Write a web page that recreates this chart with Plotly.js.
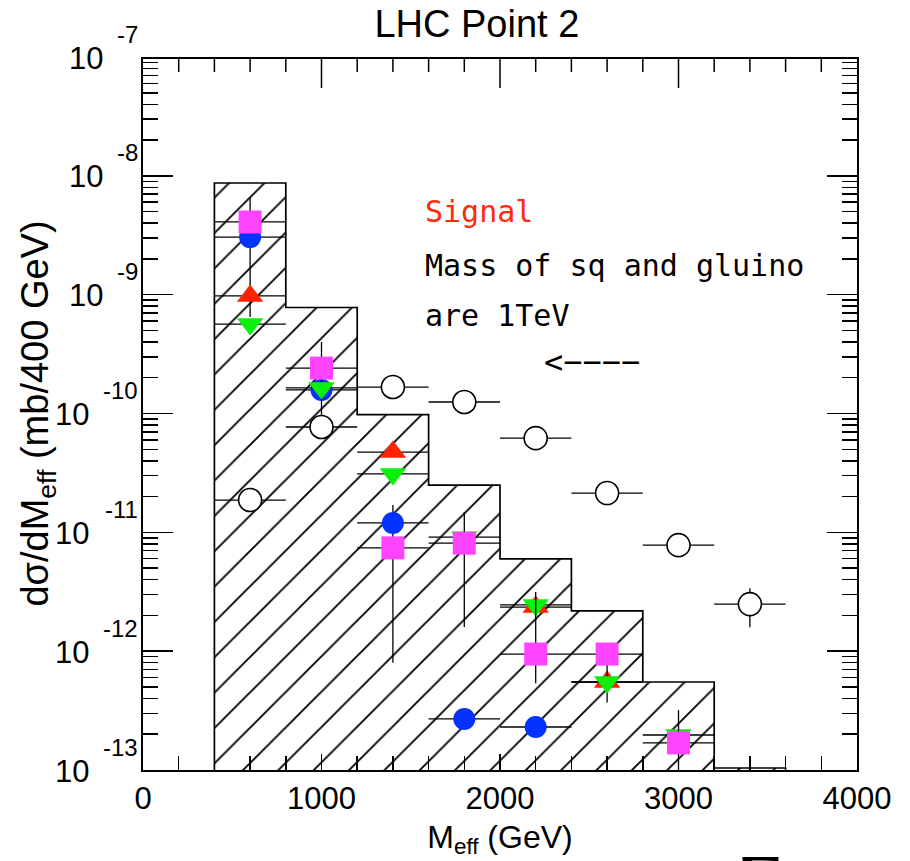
<!DOCTYPE html>
<html><head><meta charset="utf-8">
<script src="https://cdn.plot.ly/plotly-3.0.1.min.js"></script>
<style>html,body{margin:0;padding:0;background:#fff;} #chart{width:910px;height:861px;}</style>
</head><body><div id="chart"></div>
<script>
// ---- data ----
const binCenters = [600, 1000, 1400, 1800, 2200, 2600, 3000, 3400];
const binWidth = 400;
const histTotal = [8.7e-9, 7.8e-10, 9.8e-11, 2.5e-11, 5.97e-12, 2.18e-12, 5.5e-13, 1.04e-13];

const bgX = [600, 1000, 1400, 1800, 2200, 2600, 3000, 3400];
const bgY = [1.87e-11, 7.7e-11, 1.67e-10, 1.25e-10, 6.2e-11, 2.14e-11, 7.8e-12, 2.49e-12];
const bgErrUp = [0, 0, 0, 0, 0, 0, 0, 0.9e-12];
const bgErrDown = [0, 0, 0, 0, 0, 0, 0, 0.9e-12];

const blueX = [600, 1000, 1400, 1800, 2200];
const blueY = [3.05e-9, 1.58e-10, 1.2e-11, 2.69e-13, 2.3e-13];
const blueErrUp = [3.6e-9, 0, 5e-12, 0, 0];
const blueErrDown = [2.4e-9, 0, 1.12e-11, 0, 0];

const redX = [600, 1400, 2200, 2600];
const redY = [9.75e-10, 4.74e-11, 2.35e-12, 5.5e-13];

const greenX = [600, 1000, 1400, 1800, 2200, 2600, 3000];
const greenY = [5.66e-10, 1.64e-10, 3.1e-11, 9.1e-12, 2.45e-12, 5.5e-13, 1.97e-13];
const greenErrUp = [0, 2.36e-10, 0, 0, 0, 2.4e-13, 0];
const greenErrDown = [0, 1.0e-10, 0, 0, 0, 1.8e-13, 0];

const magX = [600, 1000, 1400, 1800, 2200, 2600, 3000];
const magY = [4.09e-9, 2.41e-10, 7.4e-12, 8.1e-12, 9.46e-13, 9.46e-13, 1.69e-13];
const magErrUp = [0, 0, 0, 6.7e-12, 2.2e-12, 0, 1.5e-13];
const magErrDown = [0, 0, 0, 6.5e-12, 4.1e-13, 0, 1.65e-13];

const xTickVals = [0, 1000, 2000, 3000, 4000];
const xTickText = ['0', '1000', '2000', '3000', '4000'];
const xMinorStep = 200;
const yDecades = [-7, -8, -9, -10, -11, -12, -13];
const yRange = [-13, -7];
const xRange = [0, 4000];

// ---- build ----
const FONT = 'Liberation Sans, Arial, Helvetica, sans-serif';
const MONO = 'DejaVu Sans Mono, Liberation Mono, monospace';
const PLOT_H = 861 - 57 - 91;

const stepX = [], stepY = [];
const yFloor = Math.pow(10, yRange[0]);
stepX.push(binCenters[0] - binWidth / 2); stepY.push(yFloor);
binCenters.forEach((c, i) => {
  stepX.push(c - binWidth / 2, c + binWidth / 2);
  stepY.push(histTotal[i], histTotal[i]);
});
stepX.push(binCenters[binCenters.length - 1] + binWidth / 2); stepY.push(yFloor);

function errX() { return {type: 'constant', value: binWidth / 2, color: 'black', thickness: 1.3, width: 0}; }
function errY(up, down) {
  return {type: 'data', symmetric: false, array: up, arrayminus: down, color: 'black', thickness: 1.3, width: 0};
}

const traces = [
  {type: 'bar', x: binCenters, y: histTotal, width: binWidth, hoverinfo: 'skip',
   marker: {color: 'white', line: {width: 0},
            pattern: {shape: '/', fgcolor: 'black', bgcolor: 'white', size: 25, solidity: 0.075}}},
  {type: 'scatter', mode: 'lines', x: stepX, y: stepY, hoverinfo: 'skip',
   line: {color: 'black', width: 1.7}},
  {type: 'scatter', mode: 'markers', x: blueX, y: blueY, error_x: errX(), error_y: errY(blueErrUp, blueErrDown),
   marker: {symbol: 'circle', size: 22, color: '#0433ff', line: {width: 0}}},
  {type: 'scatter', mode: 'markers', x: redX, y: redY, error_x: errX(),
   marker: {symbol: 'triangle-up', size: 23, color: '#ff2200', line: {width: 0}}},
  {type: 'scatter', mode: 'markers', x: greenX, y: greenY, error_x: errX(), error_y: errY(greenErrUp, greenErrDown),
   marker: {symbol: 'triangle-down', size: 23, color: '#0cee0c', line: {width: 0}}},
  {type: 'scatter', mode: 'markers', x: magX, y: magY, error_x: errX(), error_y: errY(magErrUp, magErrDown),
   marker: {symbol: 'square', size: 23, color: '#ff44ff', line: {width: 0}}},
  {type: 'scatter', mode: 'markers', x: bgX, y: bgY, error_x: errX(), error_y: errY(bgErrUp, bgErrDown),
   marker: {symbol: 'circle', size: 23, color: 'white', line: {width: 1.6, color: 'black'}}}
];

// top frame edge with its ticks (long at labelled values, short every 200)
const topY = 1 - 1 / PLOT_H;
const shapes = [{type: 'line', xref: 'paper', yref: 'paper', x0: 0, x1: 1, y0: topY, y1: topY,
                 line: {color: 'black', width: 2.2}}];
for (let v = xRange[0] + xMinorStep; v < xRange[1]; v += xMinorStep) {
  const major = xTickVals.indexOf(v) >= 0;
  const len = major ? 30 : 14;
  shapes.push({type: 'line', xref: 'x', yref: 'paper', x0: v, x1: v, y0: topY, y1: topY - len / PLOT_H,
               line: {color: 'black', width: 1.5}});
}

const annotations = [];
const expFont = 24, tenFont = 31;
yDecades.forEach(d => {
  const exp = String(d);
  const expW = (0.333 + 0.556 * (exp.length - 1)) * expFont;
  annotations.push({xref: 'paper', yref: 'y', x: 0, y: d, xanchor: 'right', yanchor: 'middle',
    xshift: -3, yshift: 23, text: exp, showarrow: false, font: {family: FONT, size: expFont, color: 'black'}});
  annotations.push({xref: 'paper', yref: 'y', x: 0, y: d, xanchor: 'right', yanchor: 'middle',
    xshift: -3 - expW - 14, yshift: -1, text: '10', showarrow: false, font: {family: FONT, size: tenFont, color: 'black'}});
});
annotations.push(
  {xref: 'paper', yref: 'paper', x: 0.392, y: 0.784, xanchor: 'left', yanchor: 'middle', showarrow: false,
   text: 'Signal', font: {family: MONO, size: 30, color: '#ff2a0a'}},
  {xref: 'paper', yref: 'paper', x: 0.392, y: 0.707, xanchor: 'left', yanchor: 'middle', showarrow: false,
   text: 'Mass of sq and gluino', font: {family: MONO, size: 30, color: 'black'}},
  {xref: 'paper', yref: 'paper', x: 0.392, y: 0.637, xanchor: 'left', yanchor: 'middle', showarrow: false,
   text: 'are 1TeV', font: {family: MONO, size: 30, color: 'black'}},
  {xref: 'paper', yref: 'paper', x: 0.559, y: 0.572, xanchor: 'left', yanchor: 'middle', showarrow: false,
   text: '<−−−−', font: {family: MONO, size: 32, color: 'black'}},
  {xref: 'paper', yref: 'paper', x: 0.868, y: -0.094, xanchor: 'center', yanchor: 'top', showarrow: false,
   text: 'Σ', font: {family: 'Liberation Serif, serif', size: 80, color: 'black'}}
);

const layout = {
  width: 910, height: 861,
  margin: {l: 143, r: 53, t: 57, b: 91},
  paper_bgcolor: 'white', plot_bgcolor: 'white',
  showlegend: false, bargap: 0,
  font: {family: FONT, color: 'black'},
  title: {text: 'LHC Point 2', x: 0.524, xanchor: 'center', y: 0.972, yanchor: 'middle',
          font: {family: FONT, size: 38, color: 'black'}},
  xaxis: {range: xRange, type: 'linear', tickmode: 'array', tickvals: xTickVals, ticktext: xTickText,
          ticks: 'inside', ticklen: 16, tickwidth: 1.5, tickcolor: 'black',
          minor: {dtick: xMinorStep, ticks: 'inside', ticklen: 14, tickwidth: 1.5, tickcolor: 'black', showgrid: false},
          showline: true, linewidth: 2, linecolor: 'black', mirror: false,
          showgrid: false, zeroline: false, tickfont: {family: FONT, size: 31, color: 'black'},
          title: {text: 'M<sub>eff</sub> (GeV)', font: {family: FONT, size: 32, color: 'black'}, standoff: 10}},
  yaxis: {type: 'log', range: yRange, dtick: 1, ticks: 'inside', ticklen: 30, tickwidth: 1.5, tickcolor: 'black',
          minor: {dtick: 'D1', ticks: 'inside', ticklen: 15, tickwidth: 1.5, tickcolor: 'black', showgrid: false},
          showline: true, linewidth: 2, linecolor: 'black', mirror: 'ticks',
          showgrid: false, zeroline: false, showticklabels: false,
          title: {text: 'dσ/dM<sub>eff</sub> (mb/400 GeV)', font: {family: FONT, size: 38, color: 'black'}, standoff: 81}},
  shapes: shapes,
  annotations: annotations
};

Plotly.newPlot('chart', traces, layout, {displayModeBar: false, staticPlot: true});
</script>
</body></html>
